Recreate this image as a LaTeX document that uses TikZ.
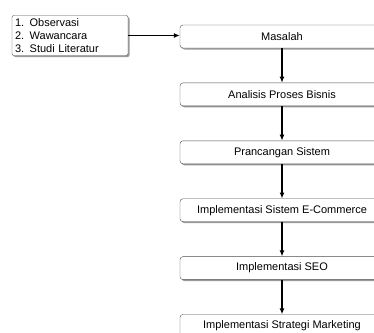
\documentclass[tikz,border=0pt]{standalone}
\usepackage{fontspec}
\setmainfont{Liberation Sans}
\usetikzlibrary{positioning,shadows,arrows.meta}

\begin{document}
\begin{tikzpicture}[x=1pt,y=1pt,font=\fontsize{11}{13}\selectfont,node distance=34.5pt]
      \useasboundingbox (0,0) rectangle (374,-332);

      \begin{scope}[every node/.style={draw=black!70,fill=white,rounded corners=3pt,
          drop shadow={shadow xshift=1.5pt,shadow yshift=-1.5pt,fill=black!40,opacity=1},
          minimum width=204pt,minimum height=23pt,inner sep=2pt}]
        \node (masalah)   at (282,-36.5)        {Masalah};
        \node (analisis)  [below=of masalah]    {Analisis Proses Bisnis};
        \node (rancang)   [below=of analisis]   {Prancangan Sistem};
        \node (ecommerce) [below=of rancang]    {Implementasi Sistem E-Commerce};
        \node (seo)       [below=of ecommerce]  {Implementasi SEO};
        \node (marketing) [below=of seo]        {Implementasi Strategi Marketing};
      \end{scope}

      \node (metode) [draw=black!70,fill=white,rounded corners=2pt,
          drop shadow={shadow xshift=1.5pt,shadow yshift=-1.5pt,fill=black!40,opacity=1},
          text width=110pt,align=left,inner sep=3pt] at (70,-35.5)
          {1. Observasi\\2. Wawancara\\3. Studi Literatur};

      \begin{scope}[every edge/.style={draw,line width=1.2pt,-{Latex[length=6pt,width=5pt]}}]
        \path (metode)    edge (metode.east -| masalah.west);
        \path (masalah)   edge (analisis);
        \path (analisis)  edge (rancang);
        \path (rancang)   edge (ecommerce);
        \path (ecommerce) edge (seo);
        \path (seo)       edge (marketing);
      \end{scope}

    \end{tikzpicture}
\end{document}
